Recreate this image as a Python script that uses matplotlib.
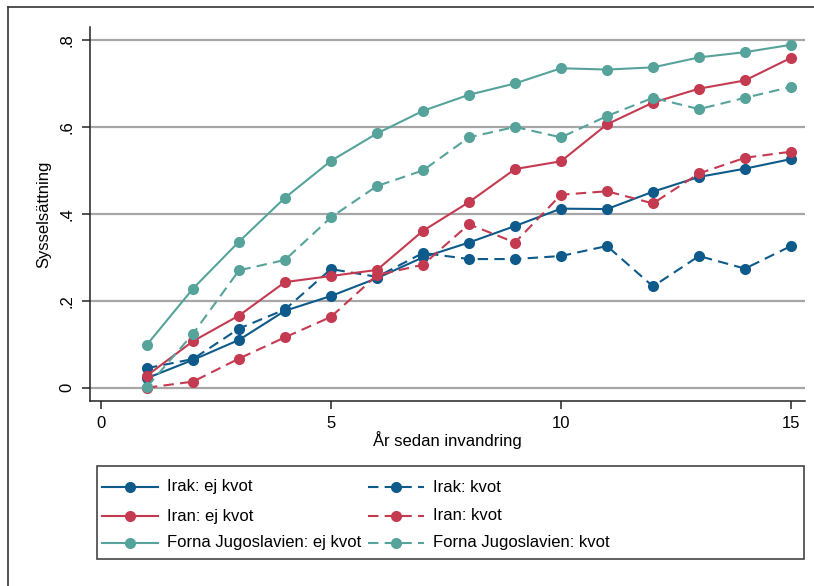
import matplotlib
matplotlib.use("Agg")
import matplotlib.pyplot as plt
from matplotlib.lines import Line2D
from matplotlib import font_manager

names = {f.name for f in font_manager.fontManager.ttflist}
fam = [n for n in ['Liberation Sans Narrow', 'Liberation Sans', 'DejaVu Sans'] if n in names]
plt.rcParams['font.family'] = fam
narrow = 'Liberation Sans Narrow' in names
FS = 13.5 if narrow else 12

years = list(range(1, 16))

irak_ej   = [0.022, 0.064, 0.110, 0.177, 0.211, 0.252, 0.300, 0.334, 0.372, 0.412, 0.411, 0.451, 0.485, 0.504, 0.526]
irak_kv   = [0.045, 0.066, 0.136, 0.180, 0.273, 0.255, 0.310, 0.296, 0.296, 0.303, 0.326, 0.233, 0.303, 0.274, 0.326]
iran_ej   = [0.028, 0.107, 0.166, 0.243, 0.257, 0.271, 0.361, 0.427, 0.503, 0.521, 0.606, 0.656, 0.688, 0.707, 0.759]
iran_kv   = [0.000, 0.014, 0.067, 0.116, 0.163, 0.259, 0.283, 0.376, 0.334, 0.444, 0.452, 0.424, 0.493, 0.529, 0.543]
jugo_ej   = [0.099, 0.228, 0.336, 0.437, 0.522, 0.585, 0.637, 0.674, 0.700, 0.735, 0.732, 0.737, 0.760, 0.772, 0.789]
jugo_kv   = [0.002, 0.124, 0.270, 0.294, 0.392, 0.464, 0.500, 0.576, 0.600, 0.576, 0.625, 0.667, 0.641, 0.667, 0.692]

labels = ["Irak: ej kvot", "Irak: kvot", "Iran: ej kvot", "Iran: kvot",
          "Forna Jugoslavien: ej kvot", "Forna Jugoslavien: kvot"]

yticks = [0, 0.2, 0.4, 0.6, 0.8]
ytick_labels = ["0", ".2", ".4", ".6", ".8"]
xticks = [0, 5, 10, 15]

BLUE = "#0e5a8a"
RED = "#c43a50"
TEAL = "#56a39b"

W, H = 814, 586
fig = plt.figure(figsize=(W / 100, H / 100), dpi=100)

def fx(px):
    return px / W

def fy(py):
    return 1 - py / H

ax_left, ax_right, ax_top, ax_bottom = 90, 805, 27, 401
ax = fig.add_axes([fx(ax_left), fy(ax_bottom), fx(ax_right) - fx(ax_left), fy(ax_top) - fy(ax_bottom)])

ppu_y = (387.7 - 40) / 0.8
ax.set_ylim(-(ax_bottom - 387.7) / ppu_y, 0.8 + (40 - ax_top) / ppu_y)
ppu_x = (791 - 101) / 15
ax.set_xlim(-(101 - ax_left) / ppu_x, 15 + (ax_right - 791) / ppu_x)

for yv in yticks:
    ax.axhline(yv, color="#a6a6a6", lw=1.6, zorder=0)

series = [
    (irak_ej, BLUE, '-'), (irak_kv, BLUE, '--'),
    (iran_ej, RED, '-'), (iran_kv, RED, '--'),
    (jugo_ej, TEAL, '-'), (jugo_kv, TEAL, '--'),
]
MS = 8
for i, (vals, c, ls) in enumerate(series):
    kw = dict(color=c, lw=1.5, marker='o', markersize=MS, markeredgewidth=0)
    if ls == '--':
        kw['dashes'] = (5, 3)
    ax.plot(years, vals, **kw, zorder=3)

ax.spines['top'].set_visible(False)
ax.spines['right'].set_visible(False)
for s in ['left', 'bottom']:
    ax.spines[s].set_linewidth(1.1)
    ax.spines[s].set_color('#222222')

ax.set_yticks(yticks)
ax.set_yticklabels(ytick_labels, rotation=90, va='center')
ax.set_xticks(xticks)
ax.tick_params(axis='both', labelsize=FS, length=6, width=1.1, color='#222222', pad=5)
ax.set_ylabel("Sysselsättning", fontsize=FS, labelpad=6)
ax.set_xlabel("År sedan invandring", fontsize=FS, labelpad=0)

leg_l, leg_r, leg_t, leg_b = 97, 804, 466, 559
fig.patches.append(matplotlib.patches.Rectangle((fx(leg_l), fy(leg_b)), fx(leg_r) - fx(leg_l), fy(leg_t) - fy(leg_b),
                                                transform=fig.transFigure, fill=False, ec='#444444', lw=1.2))
rows_y = [487, 516, 543]
cols = [(102, 158, 167), (368, 424, 433)]
for i, (vals, c, ls) in enumerate(series):
    col = i % 2
    row = i // 2
    h0, h1, tx = cols[col]
    y = rows_y[row]
    kw = dict(color=c, lw=1.5, transform=fig.transFigure)
    if ls == '--':
        kw['dashes'] = (5, 3)
    fig.add_artist(Line2D([fx(h0), fx(h1)], [fy(y), fy(y)], **kw))
    fig.add_artist(Line2D([fx((h0 + h1) / 2)], [fy(y)], marker='o', markersize=MS, markeredgewidth=0,
                          color=c, transform=fig.transFigure))
    fig.text(fx(tx), fy(y), labels[i], fontsize=FS, va='center', ha='left')

fig.add_artist(Line2D([fx(8), fx(814)], [fy(7), fy(7)], color='#333333', lw=1.2, transform=fig.transFigure))
fig.add_artist(Line2D([fx(8), fx(8)], [fy(7), fy(586)], color='#333333', lw=1.2, transform=fig.transFigure))

fig.savefig("out.png", dpi=100)
